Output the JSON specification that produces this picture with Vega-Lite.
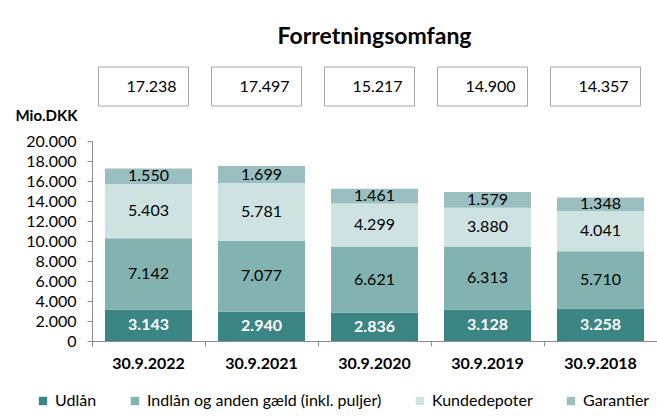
{
  "$schema": "https://vega.github.io/schema/vega-lite/v6.json",
  "autosize": {"type": "none"},
  "padding": {"left": 92, "top": 141, "right": 0, "bottom": 75},
  "width": 565,
  "height": 200,
  "background": "white",
  "config": {
    "locale": {"number": {"decimal": ",", "thousands": ".", "grouping": [3], "currency": ["", " kr."]}},
    "numberFormat": ",d",
    "font": "Lato",
    "view": {"stroke": null},
    "axisY": {
      "grid": false, "labelOverlap": false, "labelBound": false, "tickCount": 10,
      "labelFont": "Lato", "labelFontSize": 16, "labelColor": "#000000", "labelPadding": 11,
      "tickSize": 5, "tickColor": "#8c8c8c", "domainColor": "#8c8c8c"
    },
    "axisX": {
      "labelAngle": 0, "labelFont": "Lato", "labelFontSize": 16, "labelFontWeight": "bold",
      "labelColor": "#000000", "labelPadding": 9, "labelBaseline": "top",
      "tickSize": 5, "tickColor": "#8c8c8c", "domainColor": "#8c8c8c"
    }
  },
  "title": {
    "text": "Forretningsomfang",
    "fontSize": 23,
    "fontWeight": "bold",
    "font": "Lato",
    "color": "#000000",
    "anchor": "middle",
    "offset": 18
  },
  "datasets": {
    "parts": [
      {"year": "30.9.2022", "cat": "Udlån", "order": 1, "value": 3143},
      {"year": "30.9.2022", "cat": "Indlån og anden gæld (inkl. puljer)", "order": 2, "value": 7142},
      {"year": "30.9.2022", "cat": "Kundedepoter", "order": 3, "value": 5403},
      {"year": "30.9.2022", "cat": "Garantier", "order": 4, "value": 1550},
      {"year": "30.9.2021", "cat": "Udlån", "order": 1, "value": 2940},
      {"year": "30.9.2021", "cat": "Indlån og anden gæld (inkl. puljer)", "order": 2, "value": 7077},
      {"year": "30.9.2021", "cat": "Kundedepoter", "order": 3, "value": 5781},
      {"year": "30.9.2021", "cat": "Garantier", "order": 4, "value": 1699},
      {"year": "30.9.2020", "cat": "Udlån", "order": 1, "value": 2836},
      {"year": "30.9.2020", "cat": "Indlån og anden gæld (inkl. puljer)", "order": 2, "value": 6621},
      {"year": "30.9.2020", "cat": "Kundedepoter", "order": 3, "value": 4299},
      {"year": "30.9.2020", "cat": "Garantier", "order": 4, "value": 1461},
      {"year": "30.9.2019", "cat": "Udlån", "order": 1, "value": 3128},
      {"year": "30.9.2019", "cat": "Indlån og anden gæld (inkl. puljer)", "order": 2, "value": 6313},
      {"year": "30.9.2019", "cat": "Kundedepoter", "order": 3, "value": 3880},
      {"year": "30.9.2019", "cat": "Garantier", "order": 4, "value": 1579},
      {"year": "30.9.2018", "cat": "Udlån", "order": 1, "value": 3258},
      {"year": "30.9.2018", "cat": "Indlån og anden gæld (inkl. puljer)", "order": 2, "value": 5710},
      {"year": "30.9.2018", "cat": "Kundedepoter", "order": 3, "value": 4041},
      {"year": "30.9.2018", "cat": "Garantier", "order": 4, "value": 1348}
    ],
    "totals": [
      {"year": "30.9.2022", "total": 17238, "boxLow": 23500, "boxHigh": 27400, "textY": 25450},
      {"year": "30.9.2021", "total": 17497, "boxLow": 23500, "boxHigh": 27400, "textY": 25450},
      {"year": "30.9.2020", "total": 15217, "boxLow": 23500, "boxHigh": 27400, "textY": 25450},
      {"year": "30.9.2019", "total": 14900, "boxLow": 23500, "boxHigh": 27400, "textY": 25450},
      {"year": "30.9.2018", "total": 14357, "boxLow": 23500, "boxHigh": 27400, "textY": 25450}
    ]
  },
  "layer": [
    {
      "data": {"name": "parts"},
      "transform": [
        {"stack": "value", "groupby": ["year"], "sort": [{"field": "order", "order": "ascending"}], "as": ["y0", "y1"]},
        {"calculate": "(datum.y0 + datum.y1) / 2", "as": "mid"}
      ],
      "layer": [
        {
          "mark": {"type": "bar", "width": {"band": 0.77}},
          "encoding": {
            "x": {
              "field": "year", "type": "nominal",
              "sort": ["30.9.2022", "30.9.2021", "30.9.2020", "30.9.2019", "30.9.2018"],
              "scale": {"paddingInner": 0, "paddingOuter": 0},
              "axis": {"title": null, "bandPosition": 0, "tickExtra": true}
            },
            "y": {
              "field": "y0", "type": "quantitative",
              "scale": {"domain": [0, 20000], "nice": false, "zero": true},
              "axis": {
                "title": "Mio.DKK", "titleAngle": 0, "titleAlign": "left", "titleBaseline": "middle",
                "titleX": -77, "titleY": -26, "titleFont": "Lato", "titleFontSize": 15,
                "titleFontWeight": "bold", "titleColor": "#000000"
              }
            },
            "y2": {"field": "y1"},
            "color": {
              "field": "cat", "type": "nominal",
              "scale": {
                "domain": ["Udlån", "Indlån og anden gæld (inkl. puljer)", "Kundedepoter", "Garantier"],
                "range": ["#3b8584", "#82b3b1", "#cde2e1", "#9bbfc0"]
              },
              "legend": {
                "title": null, "orient": "none", "direction": "horizontal",
                "legendX": -57, "legendY": 252,
                "symbolType": "square", "symbolSize": 70, "symbolStrokeWidth": 0,
                "labelFont": "Lato", "labelFontSize": 16, "labelColor": "#000000",
                "labelOffset": 4, "columnPadding": 30, "labelLimit": 400
              }
            }
          }
        },
        {
          "transform": [{"filter": "datum.cat === 'Udlån'"}],
          "mark": {"type": "text", "fontSize": 16, "fontWeight": "bold", "color": "white", "font": "Lato"},
          "encoding": {
            "x": {"field": "year", "type": "nominal", "sort": ["30.9.2022", "30.9.2021", "30.9.2020", "30.9.2019", "30.9.2018"]},
            "y": {"field": "mid", "type": "quantitative"},
            "text": {"field": "value", "type": "quantitative", "format": ",d"}
          }
        },
        {
          "transform": [{"filter": "datum.cat !== 'Udlån'"}],
          "mark": {"type": "text", "fontSize": 16, "color": "black", "font": "Lato"},
          "encoding": {
            "x": {"field": "year", "type": "nominal", "sort": ["30.9.2022", "30.9.2021", "30.9.2020", "30.9.2019", "30.9.2018"]},
            "y": {"field": "mid", "type": "quantitative"},
            "text": {"field": "value", "type": "quantitative", "format": ",d"}
          }
        }
      ]
    },
    {
      "data": {"name": "totals"},
      "layer": [
        {
          "mark": {"type": "rect", "width": 90, "xOffset": -5, "fill": "white", "stroke": "#a6a6a6", "strokeWidth": 1},
          "encoding": {
            "x": {"field": "year", "type": "nominal", "sort": ["30.9.2022", "30.9.2021", "30.9.2020", "30.9.2019", "30.9.2018"]},
            "y": {"field": "boxLow", "type": "quantitative"},
            "y2": {"field": "boxHigh"}
          }
        },
        {
          "mark": {"type": "text", "fontSize": 16, "color": "black", "font": "Lato", "xOffset": 3},
          "encoding": {
            "x": {"field": "year", "type": "nominal", "sort": ["30.9.2022", "30.9.2021", "30.9.2020", "30.9.2019", "30.9.2018"]},
            "y": {"field": "textY", "type": "quantitative"},
            "text": {"field": "total", "type": "quantitative", "format": ",d"}
          }
        }
      ]
    }
  ]
}
